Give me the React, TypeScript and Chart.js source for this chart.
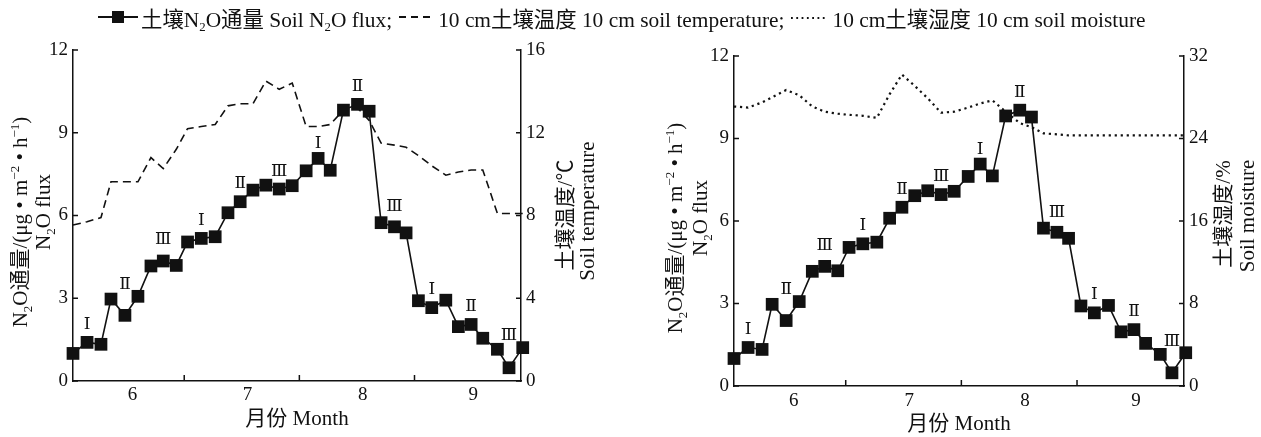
import React, { useEffect, useRef } from 'react';
import { Chart, registerables } from 'chart.js';

Chart.register(...registerables);

const FONT = '"Liberation Serif", "Times New Roman", "Noto Sans CJK SC", serif';
const ROMAN_FONT = '"DejaVu Serif", "Noto Sans CJK SC", serif';
const INK = '#111';

// ---- data ----
const sampleMonth = [
  5.484, 5.606, 5.727, 5.814, 5.935, 6.048, 6.161, 6.268, 6.381, 6.479, 6.598, 6.719,
  6.83, 6.936, 7.047, 7.159, 7.275, 7.388, 7.509, 7.613, 7.718, 7.833, 7.955, 8.056,
  8.16, 8.276, 8.377, 8.484, 8.6, 8.722, 8.831, 8.942, 9.043, 9.17, 9.271, 9.39,
];
const n2oFlux = [
  1.0, 1.4, 1.33, 2.97, 2.38, 3.07, 4.17, 4.35, 4.19, 5.04, 5.17, 5.23,
  6.1, 6.5, 6.92, 7.1, 6.96, 7.08, 7.62, 8.07, 7.64, 9.82, 10.03, 9.78,
  5.74, 5.59, 5.37, 2.91, 2.66, 2.93, 1.97, 2.05, 1.55, 1.15, 0.48, 1.21,
];
const soilTemp = [
  7.54, 7.7, 7.9, 9.63, 9.63, 9.63, 10.8, 10.27, 11.2, 12.2, 12.3, 12.4,
  13.3, 13.4, 13.4, 14.5, 14.1, 14.4, 12.3, 12.3, 12.4, 13.1, 13.2, 12.6,
  11.5, 11.4, 11.3, 10.9, 10.4, 9.95, 10.1, 10.2, 10.2, 8.1, 8.1, 8.1,
];
const soilMoisture = [
  27.1, 27.0, 27.5, 28.0, 28.7, 28.2, 27.1, 26.6, 26.4, 26.3, 26.2, 26.0,
  28.3, 30.2, 29.1, 27.9, 26.5, 26.6, 27.0, 27.4, 27.7, 26.6, 25.5, 25.1,
  24.5, 24.4, 24.3, 24.3, 24.3, 24.3, 24.3, 24.3, 24.3, 24.3, 24.3, 24.3,
];
const groupLabels = ['Ⅰ', 'Ⅱ', 'Ⅲ', 'Ⅰ', 'Ⅱ', 'Ⅲ', 'Ⅰ', 'Ⅱ', 'Ⅲ', 'Ⅰ', 'Ⅱ', 'Ⅲ'];
const groupLabelLevel = [2.05, 3.51, 5.11, 5.83, 7.16, 7.61, 8.59, 10.66, 6.32, 3.32, 2.69, 1.63];

const monthTicks = [6, 7, 8, 8.96];
const monthTickLabels = ['6', '7', '8', '9'];
const monthBoundaries = [6.45, 7.45, 8.45];
const xMin = 5.484;
const xMax = 9.375;
const fluxTicks = [0, 3, 6, 9, 12];
const tempTicks = [0, 4, 8, 12, 16];
const moistTicks = [0, 8, 16, 24, 32];

type Run = { t: string; s?: 'sub' | 'sup' };
const fluxTitle1: Run[] = [
  { t: 'N' }, { t: '2', s: 'sub' }, { t: 'O通量/(μg • m' }, { t: '−2', s: 'sup' },
  { t: ' • h' }, { t: '−1', s: 'sup' }, { t: ')' },
];
const fluxTitle2: Run[] = [{ t: 'N' }, { t: '2', s: 'sub' }, { t: 'O flux' }];
const tempTitle1: Run[] = [{ t: '土壤温度/℃' }];
const tempTitle2: Run[] = [{ t: 'Soil temperature' }];
const moistTitle1: Run[] = [{ t: '土壤湿度/%' }];
const moistTitle2: Run[] = [{ t: 'Soil moisture' }];
const xTitle: Run[] = [{ t: '月份 Month' }];

function drawRich(ctx: CanvasRenderingContext2D, runs: Run[], x: number, y: number, size: number, angle: number) {
  ctx.save();
  ctx.translate(x, y);
  ctx.rotate(angle);
  ctx.fillStyle = INK;
  ctx.textBaseline = 'alphabetic';
  ctx.textAlign = 'left';
  const fontOf = (r: Run) => `${r.s ? Math.round(size * 0.6) : size}px ${FONT}`;
  const widths = runs.map((r) => {
    ctx.font = fontOf(r);
    return ctx.measureText(r.t).width;
  });
  const total = widths.reduce((a, b) => a + b, 0);
  let cx = -total / 2;
  const base = size * 0.35;
  runs.forEach((r, i) => {
    ctx.font = fontOf(r);
    const dy = r.s === 'sub' ? size * 0.2 : r.s === 'sup' ? -size * 0.38 : 0;
    ctx.fillText(r.t, cx, base + dy);
    cx += widths[i];
  });
  ctx.restore();
}

type PanelCfg = {
  kind: 'temp' | 'moist';
  offsetX: number;
  width: number;
  height: number;
  area: { left: number; right: number; top: number; bottom: number };
  leftTitle: { x1: number; y1: number; x2: number; y2: number };
  rightTitle: { x1: number; y1: number; x2: number; y2: number };
  xLabelPad: number;
};

const panels: PanelCfg[] = [
  {
    kind: 'temp',
    offsetX: 0,
    width: 630,
    height: 437,
    area: { left: 73, right: 521, top: 50, bottom: 381 },
    leftTitle: { x1: 20, y1: 222, x2: 43, y2: 212 },
    rightTitle: { x1: 565, y1: 215, x2: 587, y2: 211 },
    xLabelPad: 3,
  },
  {
    kind: 'moist',
    offsetX: 630,
    width: 631,
    height: 437,
    area: { left: 104, right: 554, top: 56, bottom: 386 },
    leftTitle: { x1: 45, y1: 228, x2: 70, y2: 218 },
    rightTitle: { x1: 593, y1: 214, x2: 617, y2: 216 },
    xLabelPad: 4,
  },
];

function buildConfig(p: PanelCfg): any {
  const isTemp = p.kind === 'temp';
  const rightValues = isTemp ? soilTemp : soilMoisture;
  const rightTicks = isTemp ? tempTicks : moistTicks;
  const tickFont = { family: FONT, size: 19 };

  const decor = {
    id: 'decor',
    afterDatasetsDraw(chart: any) {
      const ctx = chart.ctx as CanvasRenderingContext2D;
      const xs = chart.scales.x;
      const ys = chart.scales.y;
      ctx.save();
      ctx.font = `17px ${ROMAN_FONT}`;
      ctx.textAlign = 'center';
      ctx.textBaseline = 'middle';
      ctx.fillStyle = INK;
      groupLabels.forEach((g, i) => {
        ctx.fillText(g, xs.getPixelForValue(sampleMonth[3 * i + 1]), ys.getPixelForValue(groupLabelLevel[i]));
      });
      ctx.restore();
    },
    afterDraw(chart: any) {
      const ctx = chart.ctx as CanvasRenderingContext2D;
      const ca = chart.chartArea;
      const xs = chart.scales.x;
      const ys = chart.scales.y;
      const yr = chart.scales.yr;
      ctx.save();
      ctx.strokeStyle = INK;
      ctx.lineWidth = 1.5;
      ctx.beginPath();
      fluxTicks.forEach((v) => {
        const y = ys.getPixelForValue(v);
        ctx.moveTo(ca.left, y);
        ctx.lineTo(ca.left + 5, y);
      });
      rightTicks.forEach((v) => {
        const y = yr.getPixelForValue(v);
        ctx.moveTo(ca.right, y);
        ctx.lineTo(ca.right - 5, y);
      });
      monthBoundaries.forEach((v) => {
        const x = xs.getPixelForValue(v);
        ctx.moveTo(x, ca.bottom);
        ctx.lineTo(x, ca.bottom - 6);
      });
      ctx.stroke();
      ctx.restore();

      const T = p.leftTitle;
      drawRich(ctx, fluxTitle1, T.x1, T.y1, 21, -Math.PI / 2);
      drawRich(ctx, fluxTitle2, T.x2, T.y2, 21, -Math.PI / 2);
      const R = p.rightTitle;
      drawRich(ctx, isTemp ? tempTitle1 : moistTitle1, R.x1, R.y1, 21, -Math.PI / 2);
      drawRich(ctx, isTemp ? tempTitle2 : moistTitle2, R.x2, R.y2, 21, -Math.PI / 2);
      drawRich(ctx, xTitle, (ca.left + ca.right) / 2, ca.bottom + 37, 21, 0);
    },
  };

  return {
    type: 'line',
    data: {
      datasets: [
        {
          label: 'flux',
          data: sampleMonth.map((m, i) => ({ x: m, y: n2oFlux[i] })),
          yAxisID: 'y',
          borderColor: INK,
          borderWidth: 1.6,
          pointStyle: 'rect',
          pointRadius: 9,
          pointBackgroundColor: INK,
          pointBorderColor: INK,
          pointBorderWidth: 0,
          tension: 0,
          clip: false,
        },
        {
          label: p.kind,
          data: sampleMonth.map((m, i) => ({ x: m, y: rightValues[i] })),
          yAxisID: 'yr',
          borderColor: INK,
          borderWidth: isTemp ? 1.6 : 2.2,
          borderDash: isTemp ? [8, 5] : [2.2, 3.8],
          pointRadius: 0,
          tension: 0,
          clip: false,
        },
      ],
    },
    options: {
      responsive: false,
      animation: false,
      devicePixelRatio: 1,
      layout: { padding: { top: p.area.top, left: 0, right: 0, bottom: 0 } },
      plugins: { legend: { display: false }, tooltip: { enabled: false } },
      scales: {
        x: {
          type: 'linear',
          min: xMin,
          max: xMax,
          afterBuildTicks: (s: any) => {
            s.ticks = monthTicks.map((v) => ({ value: v }));
          },
          afterFit: (s: any) => {
            s.height = p.height - p.area.bottom;
          },
          grid: { display: false, drawTicks: false },
          border: { display: true, color: INK, width: 1.5 },
          ticks: {
            color: INK,
            font: tickFont,
            padding: p.xLabelPad,
            maxRotation: 0,
            autoSkip: false,
            callback: (v: number) => {
              const i = monthTicks.indexOf(v);
              return i >= 0 ? monthTickLabels[i] : '';
            },
          },
        },
        y: {
          type: 'linear',
          position: 'left',
          min: 0,
          max: 12,
          afterBuildTicks: (s: any) => {
            s.ticks = fluxTicks.map((v) => ({ value: v }));
          },
          afterFit: (s: any) => {
            s.width = p.area.left;
          },
          grid: { display: false, drawTicks: false },
          border: { display: true, color: INK, width: 1.5 },
          ticks: { color: INK, font: tickFont, padding: 5 },
        },
        yr: {
          type: 'linear',
          position: 'right',
          min: 0,
          max: rightTicks[rightTicks.length - 1],
          afterBuildTicks: (s: any) => {
            s.ticks = rightTicks.map((v) => ({ value: v }));
          },
          afterFit: (s: any) => {
            s.width = p.width - p.area.right;
          },
          grid: { display: false, drawTicks: false },
          border: { display: true, color: INK, width: 1.5 },
          ticks: { color: INK, font: tickFont, padding: 5 },
        },
      },
    },
    plugins: [decor],
  };
}

function Panel({ cfg }: { cfg: PanelCfg }) {
  const ref = useRef<HTMLCanvasElement>(null);
  useEffect(() => {
    const chart = new Chart(ref.current as HTMLCanvasElement, buildConfig(cfg));
    return () => chart.destroy();
  }, [cfg]);
  return (
    <canvas
      ref={ref}
      width={cfg.width}
      height={cfg.height}
      style={{ position: 'absolute', left: cfg.offsetX, top: 0, width: cfg.width, height: cfg.height }}
    />
  );
}

const subStyle: React.CSSProperties = { fontSize: '0.6em', lineHeight: 0, verticalAlign: '-0.3em' };

function Legend() {
  return (
    <div
      style={{
        position: 'absolute',
        left: 98,
        top: 3,
        height: 28,
        display: 'flex',
        alignItems: 'center',
        whiteSpace: 'nowrap',
        font: `21.4px ${FONT}`,
        color: INK,
      }}
    >
      <svg width={40} height={16} style={{ marginRight: 3 }}>
        <line x1={0} y1={8} x2={40} y2={8} stroke={INK} strokeWidth={2} />
        <rect x={14} y={2} width={12} height={12} fill={INK} />
      </svg>
      <span>
        土壤N<sub style={subStyle}>2</sub>O通量 Soil N<sub style={subStyle}>2</sub>O flux;
      </span>
      <svg width={32} height={16} style={{ margin: '0 7px' }}>
        <line x1={0} y1={8} x2={32} y2={8} stroke={INK} strokeWidth={2} strokeDasharray="7 5" />
      </svg>
      <span>10 cm土壤温度 10 cm soil temperature;</span>
      <svg width={34} height={16} style={{ margin: '0 7px' }}>
        <line x1={0} y1={9} x2={34} y2={9} stroke={INK} strokeWidth={1.8} strokeDasharray="1.8 3.5" />
      </svg>
      <span>10 cm土壤湿度 10 cm soil moisture</span>
    </div>
  );
}

export default function App() {
  return (
    <div
      style={{
        position: 'absolute',
        left: 0,
        top: 0,
        width: 1261,
        height: 437,
        background: '#fff',
        overflow: 'hidden',
      }}
    >
      <Panel cfg={panels[0]} />
      <Panel cfg={panels[1]} />
      <Legend />
    </div>
  );
}
